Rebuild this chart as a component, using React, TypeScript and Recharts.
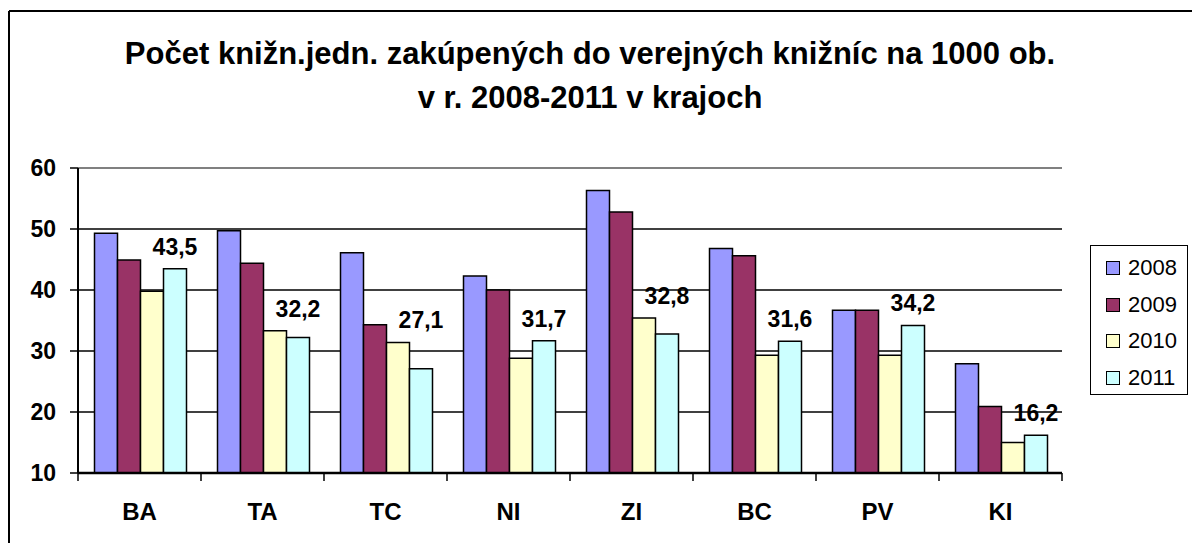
import React from 'react';
import { BarChart, Bar, XAxis, YAxis, CartesianGrid, ReferenceLine, LabelList, Legend } from 'recharts';

const regions = ['BA', 'TA', 'TC', 'NI', 'ZI', 'BC', 'PV', 'KI'];
const years = ['2008', '2009', '2010', '2011'];
const v2008 = [49.3, 49.7, 46.1, 42.3, 56.3, 46.8, 36.7, 27.9];
const v2009 = [44.9, 44.4, 34.3, 40.0, 52.8, 45.6, 36.7, 20.9];
const v2010 = [39.8, 33.3, 31.4, 28.8, 35.4, 29.3, 29.3, 15.0];
const v2011 = [43.5, 32.2, 27.1, 31.7, 32.8, 31.6, 34.2, 16.2];
const yTicks = [10, 20, 30, 40, 50, 60];
const boundaryTicks = [0, 1, 2, 3, 4, 5, 6, 7, 8];
const colors = ['#9999FF', '#993366', '#FFFFCC', '#CCFFFF'];
const titleLines = [
  'Počet knižn.jedn. zakúpených do verejných knižníc na 1000 ob.',
  'v r. 2008-2011 v krajoch',
];
const Y_MIN = 10;

const series = [v2008, v2009, v2010, v2011];
const data = regions.map((r, i) => {
  const row: Record<string, string | number> = { region: r, idx: i + 0.5 };
  years.forEach((y, k) => {
    row[y] = series[k][i];
  });
  return row;
});

const FONT = '"Liberation Sans", Arial, sans-serif';

const renderValueLabel = (props: any) => {
  const { x, y, width, height, value, index } = props;
  const v = Number(value);
  const bottom = Number(y) + Number(height);
  const pxPerUnit = Number(height) / (v - Y_MIN);
  const neighbourTop = bottom - (v2010[index] - Y_MIN) * pxPerUnit;
  const top = Math.min(Number(y), neighbourTop);
  return (
    <text
      x={Number(x) + Number(width) / 2}
      y={top - 22}
      textAnchor="middle"
      dominantBaseline="central"
      fontFamily={FONT}
      fontWeight="bold"
      fontSize={23}
      fill="#000"
    >
      {String(value).replace('.', ',')}
    </text>
  );
};

const renderLegend = () => (
  <div
    style={{
      boxSizing: 'border-box',
      width: 98,
      height: 150,
      border: '1.5px solid #000',
      background: '#fff',
      paddingTop: 4,
    }}
  >
    {years.map((y, k) => (
      <div
        key={y}
        style={{
          display: 'flex',
          alignItems: 'center',
          height: 36.5,
          paddingLeft: 15,
          fontFamily: FONT,
          fontSize: 22,
          color: '#000',
        }}
      >
        <span
          style={{
            display: 'inline-block',
            width: 12,
            height: 12,
            border: '1.5px solid #000',
            background: colors[k],
            marginRight: 8,
          }}
        />
        <span>{y}</span>
      </div>
    ))}
  </div>
);

const emptyTick = () => <g />;

export default function App() {
  return (
    <div style={{ position: 'absolute', left: 0, top: 0, width: 1192, height: 543, overflow: 'hidden', background: '#fff' }}>
      <BarChart
        width={1192}
        height={543}
        data={data}
        margin={{ top: 168, right: 130, bottom: 0, left: 8 }}
        barCategoryGap={16.5}
        barGap={0}
      >
        <CartesianGrid vertical={false} stroke="#000" strokeWidth={1.5} />
        <XAxis
          xAxisId="a_ticks"
          type="number"
          dataKey="idx"
          domain={[0, 8]}
          ticks={boundaryTicks}
          interval={0}
          allowDataOverflow
          height={1}
          tick={emptyTick}
          tickSize={8}
          tickLine={{ stroke: '#000', strokeWidth: 1.5 }}
          axisLine={{ stroke: '#000', strokeWidth: 2.5 }}
        />
        <XAxis
          xAxisId="b_cat"
          dataKey="region"
          height={69}
          tickLine={false}
          tickSize={0}
          tickMargin={29}
          axisLine={false}
          tick={{ fill: '#000', fontFamily: FONT, fontWeight: 'bold', fontSize: 24 }}
        />
        <YAxis
          domain={[Y_MIN, 60]}
          ticks={yTicks}
          width={70}
          tickSize={8}
          tickMargin={14}
          axisLine={{ stroke: '#000', strokeWidth: 2 }}
          tickLine={{ stroke: '#000', strokeWidth: 1.5 }}
          tick={{ fill: '#000', fontFamily: FONT, fontWeight: 'bold', fontSize: 23 }}
        />
        <YAxis
          yAxisId="r"
          orientation="right"
          domain={[Y_MIN, 60]}
          width={0}
          tick={false}
          tickLine={false}
          axisLine={{ stroke: '#808080', strokeWidth: 2 }}
        />
        <ReferenceLine y={60} stroke="#808080" strokeWidth={2} />
        {years.map((y, k) => (
          <Bar
            key={y}
            dataKey={y}
            xAxisId="b_cat"
            fill={colors[k]}
            stroke="#000"
            strokeWidth={1.5}
            isAnimationActive={false}
          >
            {k === 3 ? <LabelList dataKey={y} content={renderValueLabel} /> : null}
          </Bar>
        ))}
        <Legend
          layout="vertical"
          align="center"
          verticalAlign="middle"
          content={renderLegend}
          wrapperStyle={{ left: 1090, top: 245, width: 98, height: 150 }}
        />
      </BarChart>
      <svg
        width={1192}
        height={543}
        style={{ position: 'absolute', left: 0, top: 0, pointerEvents: 'none' }}
      >
        <line x1={9} y1={11} x2={1192} y2={11} stroke="#000" strokeWidth={2} />
        <line x1={9} y1={11} x2={9} y2={543} stroke="#000" strokeWidth={2} />
        {titleLines.map((t, i) => (
          <text
            key={i}
            x={590}
            y={64 + i * 44}
            textAnchor="middle"
            fontFamily={FONT}
            fontWeight="bold"
            fontSize={31}
            fill="#000"
          >
            {t}
          </text>
        ))}
      </svg>
    </div>
  );
}
